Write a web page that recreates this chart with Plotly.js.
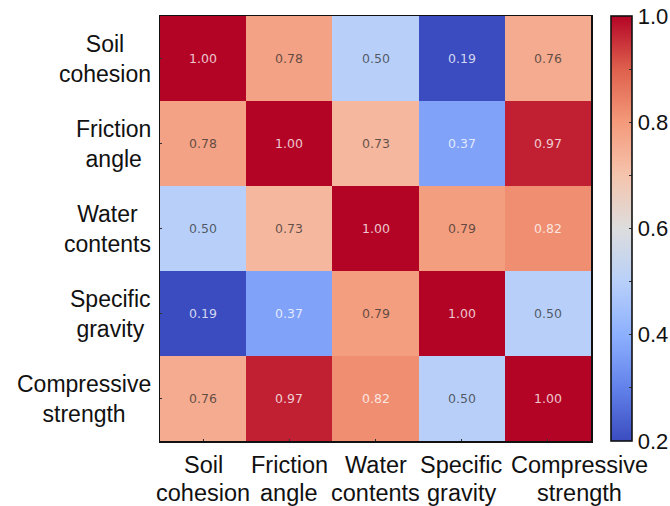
<!DOCTYPE html>
<html>
<head>
<meta charset="utf-8">
<script src="https://cdn.plot.ly/plotly-3.0.1.min.js"></script>
<style>
  html, body { margin: 0; padding: 0; background: #fff; }
  #chart { width: 670px; height: 506px; }
</style>
</head>
<body>
<div id="chart"></div>
<script>
// Soil property correlation matrix
const xLabels = ["Soil<br>cohesion", "Friction<br>angle", "Water<br>contents", "Specific<br>gravity", "Compressive<br>strength"];
const yLabels = ["Soil<br>cohesion", "Friction<br>angle", "Water<br>contents", "Specific<br>gravity", "Compressive<br>strength"];
const keys = ["soil", "friction", "water", "gravity", "compressive"];

const rowSoil        = [1.00, 0.78, 0.50, 0.19, 0.76];
const rowFriction    = [0.78, 1.00, 0.73, 0.37, 0.97];
const rowWater       = [0.50, 0.73, 1.00, 0.79, 0.82];
const rowGravity     = [0.19, 0.37, 0.79, 1.00, 0.50];
const rowCompressive = [0.76, 0.97, 0.82, 0.50, 1.00];
const matrix = [rowSoil, rowFriction, rowWater, rowGravity, rowCompressive];

const cbTickVals = [0.2, 0.3, 0.4, 0.5, 0.6, 0.7, 0.8, 0.9, 1.0];
const cbTickText = ["0.2", "", "0.4", "", "0.6", "", "0.8", "", "1.0"];

// diverging blue-white-red palette
const coolwarm = [
  [0.000, "rgb(59,76,192)"],
  [0.125, "rgb(98,130,234)"],
  [0.250, "rgb(141,176,254)"],
  [0.375, "rgb(184,208,249)"],
  [0.500, "rgb(221,221,221)"],
  [0.625, "rgb(245,196,173)"],
  [0.750, "rgb(244,154,123)"],
  [0.875, "rgb(222,96,77)"],
  [1.000, "rgb(180,4,38)"]
];

const labelFont = { family: "Liberation Sans, Arial, sans-serif", size: 23.5, color: "#111" };

const heat = {
  type: "heatmap",
  x: keys,
  y: keys,
  z: matrix,
  zmin: 0.2,
  zmax: 1.0,
  colorscale: coolwarm,
  xgap: 0, ygap: 0,
  hoverinfo: "skip",
  colorbar: {
    xref: "container", x: 611 / 670, xanchor: "left", xpad: 0,
    y: 0.5, yanchor: "middle", ypad: 0,
    len: 1, lenmode: "fraction",
    thickness: 21,
    outlinecolor: "#111", outlinewidth: 1.6,
    tickmode: "array",
    tickvals: cbTickVals,
    ticktext: cbTickText,
    ticks: "inside", ticklen: 3, tickcolor: "#333", tickwidth: 1,
    tickfont: { family: "Liberation Sans, Arial, sans-serif", size: 22, color: "#111" }
  }
};

// cell value labels
const annotations = [];
matrix.forEach((row, i) => {
  row.forEach((v, j) => {
    const light = (v < 0.45 || v > 0.8);
    annotations.push({
      x: keys[j], y: keys[i], xref: "x", yref: "y",
      text: v.toFixed(2), showarrow: false,
      font: { family: "DejaVu Sans, sans-serif", size: 12.5,
              color: light ? "rgba(255,255,255,0.78)" : "rgba(40,40,40,0.72)" }
    });
  });
});

// row labels, centred line by line
yLabels.forEach((lab, i) => {
  annotations.push({
    x: 0, xref: "paper", y: keys[i], yref: "y",
    xanchor: "right", yanchor: "middle", xshift: -7,
    align: "center", showarrow: false, text: lab,
    font: { family: "Liberation Sans, Arial, sans-serif", size: 23, color: "#111" }
  });
});

// column labels, one annotation per line for tighter leading;
// the last one is nudged right so it clears its neighbour
xLabels.forEach((lab, j) => {
  const nudge = j === xLabels.length - 1 ? 32 : 0;
  lab.split("<br>").forEach((line, k) => {
    annotations.push({
      x: keys[j], xref: "x", y: 0, yref: "paper",
      xanchor: "center", yanchor: "top",
      xshift: nudge, yshift: -9 - 28 * k,
      showarrow: false, text: line, font: labelFont
    });
  });
});

const layout = {
  width: 670, height: 506,
  margin: { l: 160, r: 79, t: 16, b: 65 },
  paper_bgcolor: "#fff", plot_bgcolor: "#fff",
  xaxis: {
    type: "category", range: [-0.5, keys.length - 0.5], autorange: false,
    tickmode: "array", tickvals: keys, ticktext: xLabels.map(() => ""),
    showline: true, mirror: true, linecolor: "#111", linewidth: 1.5,
    ticks: "inside", ticklen: 2, tickcolor: "#333",
    showgrid: false, zeroline: false,
    automargin: false
  },
  yaxis: {
    type: "category", range: [keys.length - 0.5, -0.5], autorange: false,
    tickmode: "array", tickvals: keys, ticktext: yLabels.map(() => ""),
    showline: true, mirror: true, linecolor: "#111", linewidth: 1.5,
    ticks: "inside", ticklen: 2, tickcolor: "#333",
    showgrid: false, zeroline: false,
    automargin: false
  },
  annotations: annotations
};

Plotly.newPlot("chart", [heat], layout, { displayModeBar: false, staticPlot: true });
</script>
</body>
</html>
